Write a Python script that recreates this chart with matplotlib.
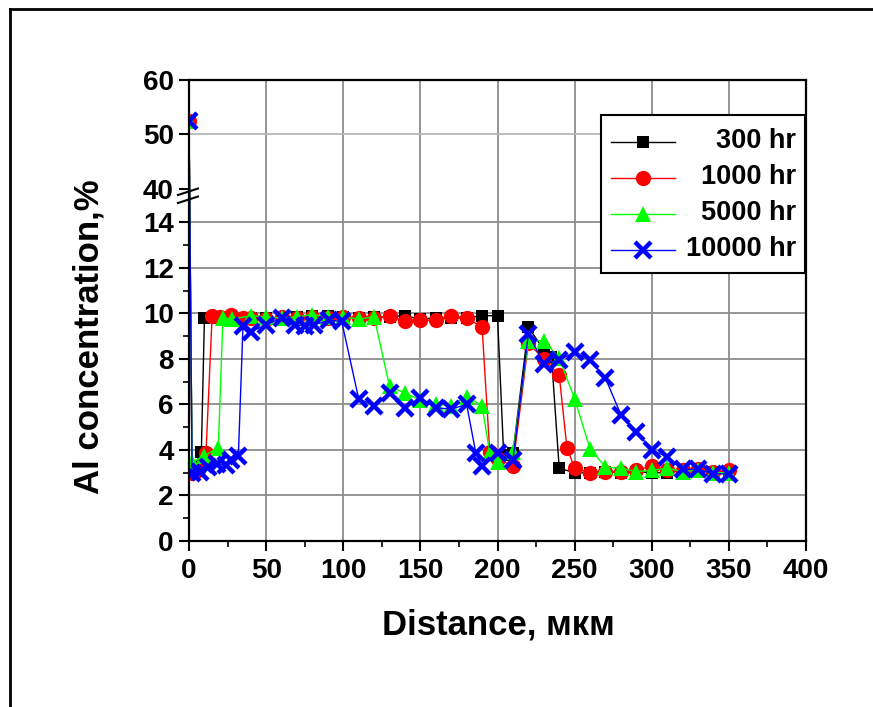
import numpy as np
import matplotlib
matplotlib.use("Agg")
import matplotlib.pyplot as plt
from matplotlib.lines import Line2D
from matplotlib.patches import Rectangle

# ---------------- data ----------------
x_300 = [0, 2, 8, 10, 20, 30, 40, 50, 60, 70, 80, 90, 100, 110, 120, 130, 140, 150,
         160, 170, 180, 190, 200, 204, 210, 220, 230, 235, 240, 250, 260, 270,
         280, 290, 300, 310, 320, 330, 340, 350]
y_300 = [52.5, 3.1, 3.9, 9.8, 9.8, 9.75, 9.8, 9.8, 9.8, 9.85, 9.9, 9.9, 9.85, 9.8,
         9.85, 9.85, 9.9, 9.75, 9.8, 9.8, 9.8, 9.9, 9.9, 3.8, 3.85, 9.4, 8.4,
         8.1, 3.2, 3.0, 3.0, 3.05, 3.0, 3.05, 3.0, 3.0, 3.1, 3.1, 3.05, 3.05]

x_1000 = [0, 2, 6, 11, 15, 20, 27, 35, 40, 50, 60, 70, 80, 90, 100, 110, 120, 130,
          140, 150, 160, 170, 180, 190, 195, 200, 210, 220, 230, 240, 245, 250, 260,
          270, 280, 290, 300, 310, 320, 330, 340, 350]
y_1000 = [52.5, 3.0, 3.1, 3.85, 9.9, 9.85, 9.95, 9.8, 9.8, 9.75, 9.85, 9.8, 9.85,
          9.8, 9.85, 9.8, 9.8, 9.9, 9.65, 9.7, 9.7, 9.9, 9.8, 9.4, 3.9, 3.6, 3.3,
          8.7, 8.0, 7.3, 4.1, 3.2, 3.0, 3.05, 3.05, 3.1, 3.3, 3.1, 3.1, 3.15, 3.05,
          3.1]

x_5000 = [0, 2, 10, 19, 22, 28, 40, 50, 60, 70, 80, 90, 100, 110, 120, 130, 140,
          150, 160, 170, 180, 190, 195, 200, 210, 220, 230, 240, 250, 260, 270, 280,
          290, 300, 310, 320, 330, 340, 350]
y_5000 = [52.5, 3.45, 3.75, 4.1, 9.8, 9.75, 9.9, 9.85, 9.8, 9.85, 9.95, 9.85, 9.85,
          9.75, 9.85, 6.8, 6.5, 6.2, 6.0, 5.95, 6.35, 5.95, 3.85, 3.45, 3.9, 8.8,
          8.8, 8.05, 6.25, 4.05, 3.25, 3.2, 3.05, 3.1, 3.2, 3.05, 3.1, 3.0, 3.0]

x_10000 = [0, 2, 7, 12, 18, 24, 27, 32, 35, 40, 50, 60, 69, 75, 81, 91, 99, 110,
           120, 130, 140, 150, 160, 170, 180, 186, 190, 200, 210, 220, 230, 240, 250,
           260, 270, 280, 290, 300, 310, 320, 330, 340, 350]
y_10000 = [52.5, 3.0, 3.05, 3.25, 3.4, 3.35, 3.55, 3.75, 9.45, 9.2, 9.5, 9.8, 9.5,
           9.45, 9.5, 9.7, 9.65, 6.25, 5.95, 6.5, 5.85, 6.3, 5.85, 5.8, 6.0, 3.85,
           3.3, 3.85, 3.55, 9.1, 7.8, 7.95, 8.3, 7.95, 7.15, 5.55, 4.8, 4.0, 3.7,
           3.15, 3.15, 2.95, 2.95]

labels = ["300 hr", "1000 hr", "5000 hr", "10000 hr"]
x_ticks = [0, 50, 100, 150, 200, 250, 300, 350, 400]
y_ticks = [0, 2, 4, 6, 8, 10, 12, 14, 40, 50, 60]

# ---------------- broken y scale ----------------
LOW_TOP, HIGH_BOT = 15.0, 38.0
R = 5.45 / 22.8


def fwd(y):
    y = np.asarray(y, dtype=float)
    return np.where(y <= LOW_TOP, y,
                    np.where(y >= HIGH_BOT, LOW_TOP + (y - HIGH_BOT) * R, LOW_TOP))


def inv(t):
    t = np.asarray(t, dtype=float)
    return np.where(t <= LOW_TOP, t, HIGH_BOT + (t - LOW_TOP) / R)


plt.rcParams['font.family'] = ['Liberation Sans', 'DejaVu Sans']
plt.rcParams['font.weight'] = 'bold'

W, H = 873, 707
fig = plt.figure(figsize=(W / 100, H / 100), dpi=100)
AX_L, AX_R, AX_T, AX_B = 189, 806, 80, 541
ax = fig.add_axes([AX_L / W, (H - AX_B) / H, (AX_R - AX_L) / W, (AX_B - AX_T) / H])
ax.set_yscale('function', functions=(fwd, inv))

# grid lines
for gx in x_ticks[1:-1]:
    ax.axvline(gx, color='#8c8c8c', lw=1.3, zorder=0)
for gy in [2, 4, 6, 8, 10, 12, 14]:
    ax.axhline(gy, color='#8c8c8c', lw=1.3, zorder=0)
ax.axhline(50, color='#b8b8b8', lw=1.3, zorder=0)

styles = [
    dict(color='black', marker='s', markersize=9, markeredgewidth=0),
    dict(color='red', marker='o', markersize=11, markeredgewidth=0),
    dict(color='#00ff00', marker='^', markersize=11.5, markeredgewidth=0),
    dict(color='blue', marker='x', markersize=12, markeredgewidth=3.2),
]
data = [(x_300, y_300), (x_1000, y_1000), (x_5000, y_5000), (x_10000, y_10000)]
for (xs, ys), st, lab in zip(data, styles, labels):
    ax.plot(xs, ys, lw=1.0, label=lab, markerfacecolor=st['color'],
            markeredgecolor=st['color'], **st)

ax.set_xlim(0, 400)
ax.set_ylim(0, 60)
ax.set_xticks(x_ticks)
ax.set_xticks([25, 75, 125, 175, 225, 275, 325, 375], minor=True)
ax.set_yticks(y_ticks)
ax.set_yticks([1, 3, 5, 7, 9, 11, 13], minor=True)
ax.set_xticklabels([str(v) for v in x_ticks])
ax.set_yticklabels([str(v) for v in y_ticks])
ax.tick_params(axis='both', which='major', direction='out', length=7, width=1.5,
               labelsize=20)
ax.tick_params(axis='x', which='major', pad=5)
ax.tick_params(axis='y', which='major', pad=4)
ax.tick_params(axis='both', which='minor', direction='out', length=4, width=1.2)
for lab in ax.get_xticklabels() + ax.get_yticklabels():
    lab.set_fontweight('bold')
for s in ax.spines.values():
    s.set_linewidth(1.6)
    s.set_color('black')


def axx(px):
    return (px - AX_L) / (AX_R - AX_L)


def axy(py):
    return (AX_B - py) / (AX_B - AX_T)


ax.set_xlabel("Distance, мкм", fontsize=25, fontweight='bold')
ax.xaxis.set_label_coords(axx(498), axy(609))
ax.set_ylabel("Al concentration,%", fontsize=25, fontweight='bold')
ax.yaxis.set_label_coords(axx(106), axy(337))

# break marks on the left axis
for yb in (195, 203):
    fig.add_artist(Line2D([178 / W, 198 / W], [(H - yb) / H, (H - yb + 6.5) / H],
                          color='black', lw=1.5))

# legend (drawn by hand for right-aligned labels)
ax.add_patch(Rectangle((axx(601), axy(273)), axx(805) - axx(601), axy(115) - axy(273),
                       transform=ax.transAxes, facecolor='white', edgecolor='black',
                       lw=1.5, zorder=5, clip_on=False))
row_y = [141.5, 177.5, 213.5, 249.5]
for py, st, lab in zip(row_y, styles, labels):
    ax.plot([axx(611), axx(675)], [axy(py), axy(py)], transform=ax.transAxes,
            color=st['color'], lw=1.0, zorder=6, clip_on=False)
    ax.plot([axx(643)], [axy(py)], transform=ax.transAxes, linestyle='none',
            markerfacecolor=st['color'], markeredgecolor=st['color'], zorder=7,
            clip_on=False, **st)
    ax.text(axx(796), axy(py), lab, transform=ax.transAxes, ha='right',
            va='center', fontsize=19.5, fontweight='bold', zorder=8)

# outer frame
fig.add_artist(Line2D([10 / W, 10 / W], [0, 1 - 9 / H], color='black', lw=2))
fig.add_artist(Line2D([10 / W, 1], [1 - 9 / H, 1 - 9 / H], color='black', lw=2))

fig.savefig("out.png", dpi=100)
